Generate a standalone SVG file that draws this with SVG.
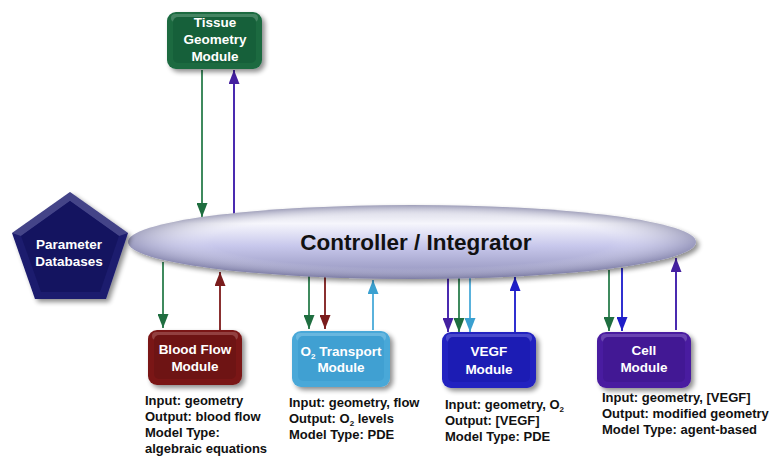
<svg xmlns="http://www.w3.org/2000/svg" width="775" height="456" viewBox="0 0 775 456">
<defs>
<style>
.lbl{font-family:"Liberation Sans",Arial,sans-serif;font-weight:bold;fill:#fff;text-anchor:middle;font-size:13.5px}
.info{font-family:"Liberation Sans",Arial,sans-serif;font-weight:bold;fill:#111;font-size:13px}
.c{fill:none;stroke-width:2}
.hl{fill:#ffffff;fill-opacity:0.18}
</style>
<linearGradient id="ell" x1="0" y1="0" x2="0" y2="1">
<stop offset="0" stop-color="#d0d0e0"/>
<stop offset="0.25" stop-color="#f6f6fc"/>
<stop offset="0.55" stop-color="#c8c8ec"/>
<stop offset="1" stop-color="#8e8eb8"/>
</linearGradient>
<radialGradient id="ellH" cx="0.5" cy="0.5" r="0.5">
<stop offset="0.7" stop-color="#ffffff" stop-opacity="0"/>
<stop offset="1" stop-color="#6a6a90" stop-opacity="0.5"/>
</radialGradient>
<filter id="sh" x="-20%" y="-20%" width="150%" height="150%">
<feGaussianBlur in="SourceAlpha" stdDeviation="2.5"/>
<feOffset dx="3" dy="3"/>
<feComponentTransfer><feFuncA type="linear" slope="0.45"/></feComponentTransfer>
<feMerge><feMergeNode/><feMergeNode in="SourceGraphic"/></feMerge>
</filter>
<marker id="mG" viewBox="0 0 14 11" refX="14" refY="5.5" markerWidth="14" markerHeight="11" markerUnits="userSpaceOnUse" orient="auto"><path d="M0,0 L14,5.5 L0,11 Z" fill="#1f6e40"/></marker>
<marker id="mR" viewBox="0 0 14 11" refX="14" refY="5.5" markerWidth="14" markerHeight="11" markerUnits="userSpaceOnUse" orient="auto"><path d="M0,0 L14,5.5 L0,11 Z" fill="#7a1c1c"/></marker>
<marker id="mL" viewBox="0 0 14 11" refX="14" refY="5.5" markerWidth="14" markerHeight="11" markerUnits="userSpaceOnUse" orient="auto"><path d="M0,0 L14,5.5 L0,11 Z" fill="#3aa0d0"/></marker>
<marker id="mB" viewBox="0 0 14 11" refX="14" refY="5.5" markerWidth="14" markerHeight="11" markerUnits="userSpaceOnUse" orient="auto"><path d="M0,0 L14,5.5 L0,11 Z" fill="#1e1ec8"/></marker>
<marker id="mP" viewBox="0 0 14 11" refX="14" refY="5.5" markerWidth="14" markerHeight="11" markerUnits="userSpaceOnUse" orient="auto"><path d="M0,0 L14,5.5 L0,11 Z" fill="#4420a0"/></marker>
</defs>
<rect width="775" height="456" fill="#fff"/>

<g id="connectors">
<line class="c" x1="202" y1="70" x2="202" y2="217" stroke="#3f8a5e" marker-end="url(#mG)"/>
<line class="c" x1="234" y1="214" x2="234" y2="70" stroke="#4a2ab0" marker-end="url(#mP)"/>
<line class="c" x1="163" y1="262" x2="163" y2="328" stroke="#3f8a5e" marker-end="url(#mG)"/>
<line class="c" x1="220" y1="330" x2="220" y2="272" stroke="#8a3030" marker-end="url(#mR)"/>
<line class="c" x1="309" y1="274" x2="309" y2="329" stroke="#3f8a5e" marker-end="url(#mG)"/>
<line class="c" x1="325" y1="276" x2="325" y2="329" stroke="#8a3030" marker-end="url(#mR)"/>
<line class="c" x1="373" y1="330" x2="373" y2="280" stroke="#5ab2dc" marker-end="url(#mL)"/>
<line class="c" x1="448" y1="276" x2="448" y2="332" stroke="#4a2ab0" marker-end="url(#mP)"/>
<line class="c" x1="459" y1="276" x2="459" y2="332" stroke="#3f8a5e" marker-end="url(#mG)"/>
<line class="c" x1="470" y1="276" x2="470" y2="332" stroke="#5ab2dc" marker-end="url(#mL)"/>
<line class="c" x1="515" y1="332" x2="515" y2="277" stroke="#3030d0" marker-end="url(#mB)"/>
<line class="c" x1="609" y1="270" x2="609" y2="331" stroke="#3f8a5e" marker-end="url(#mG)"/>
<line class="c" x1="622" y1="268" x2="622" y2="331" stroke="#3030d0" marker-end="url(#mB)"/>
<line class="c" x1="676" y1="330" x2="676" y2="258" stroke="#4a2ab0" marker-end="url(#mP)"/>
</g>

<g id="controller">
<ellipse cx="412" cy="242" rx="284" ry="37" fill="url(#ell)" filter="url(#sh)"/>
<ellipse cx="412" cy="242" rx="284" ry="37" fill="url(#ellH)"/>
<text x="416" y="250" font-family="Liberation Sans,Arial,sans-serif" font-weight="bold" font-size="22.5" text-anchor="middle" fill="#111">Controller / Integrator</text>
</g>

<g id="parameter-databases">
<polygon points="70,192 128,233 106,299 35,299 12,233" fill="#1a1a6e" filter="url(#sh)"/>
<polygon points="70,192 128,233 119,236 70,201 21,236 12,233" class="hl"/>
<polygon points="70,201 119,236 100,292 41,292 21,236" fill="#141460"/>
<text class="lbl" x="69" y="249">Parameter</text>
<text class="lbl" x="69" y="266">Databases</text>
</g>

<g id="tissue-geometry">
<rect x="167" y="12" width="95" height="57" rx="9" fill="#1a6a40" filter="url(#sh)"/>
<rect x="171" y="14" width="87" height="8" rx="4" class="hl"/>
<rect x="173" y="17" width="83" height="46" rx="5" fill="#16603a"/>
<text class="lbl" x="215" y="27">Tissue</text>
<text class="lbl" x="215" y="44">Geometry</text>
<text class="lbl" x="215" y="61">Module</text>
</g>

<g id="blood-flow">
<rect x="148" y="330" width="94" height="55" rx="9" fill="#7a1818" filter="url(#sh)"/>
<rect x="152" y="332" width="86" height="8" rx="4" class="hl"/>
<rect x="154" y="335" width="82" height="44" rx="5" fill="#6e1414"/>
<text class="lbl" x="195" y="354">Blood Flow</text>
<text class="lbl" x="195" y="371">Module</text>
<text class="info" x="145" y="405">Input: geometry</text>
<text class="info" x="145" y="421">Output: blood flow</text>
<text class="info" x="145" y="437">Model Type:</text>
<text class="info" x="145" y="453">algebraic equations</text>
</g>

<g id="o2-transport">
<rect x="292" y="331" width="98" height="56" rx="9" fill="#48a8d8" filter="url(#sh)"/>
<rect x="296" y="333" width="90" height="8" rx="4" class="hl"/>
<rect x="298" y="336" width="86" height="45" rx="5" fill="#40a0d2"/>
<text class="lbl" x="341" y="356">O<tspan font-size="8" dy="3">2</tspan><tspan dy="-3"> Transport</tspan></text>
<text class="lbl" x="341" y="372">Module</text>
<text class="info" x="289" y="407">Input: geometry, flow</text>
<text class="info" x="289" y="423">Output: O<tspan font-size="8" dy="3">2</tspan><tspan dy="-3"> levels</tspan></text>
<text class="info" x="289" y="439">Model Type: PDE</text>
</g>

<g id="vegf">
<rect x="442" y="332" width="94" height="56" rx="9" fill="#2020c0" filter="url(#sh)"/>
<rect x="446" y="334" width="86" height="8" rx="4" class="hl"/>
<rect x="448" y="337" width="82" height="45" rx="5" fill="#1c1cb4"/>
<text class="lbl" x="489" y="356">VEGF</text>
<text class="lbl" x="489" y="374">Module</text>
<text class="info" x="445" y="409">Input: geometry, O<tspan font-size="8" dy="3">2</tspan></text>
<text class="info" x="445" y="425">Output: [VEGF]</text>
<text class="info" x="445" y="441">Model Type: PDE</text>
</g>

<g id="cell">
<rect x="597" y="332" width="94" height="56" rx="9" fill="#4a1ca0" filter="url(#sh)"/>
<rect x="601" y="334" width="86" height="8" rx="4" class="hl"/>
<rect x="603" y="337" width="82" height="45" rx="5" fill="#421894"/>
<text class="lbl" x="644" y="355">Cell</text>
<text class="lbl" x="644" y="372">Module</text>
<text class="info" x="602" y="402">Input: geometry, [VEGF]</text>
<text class="info" x="602" y="418">Output: modified geometry</text>
<text class="info" x="602" y="434">Model Type: agent-based</text>
</g>
</svg>
